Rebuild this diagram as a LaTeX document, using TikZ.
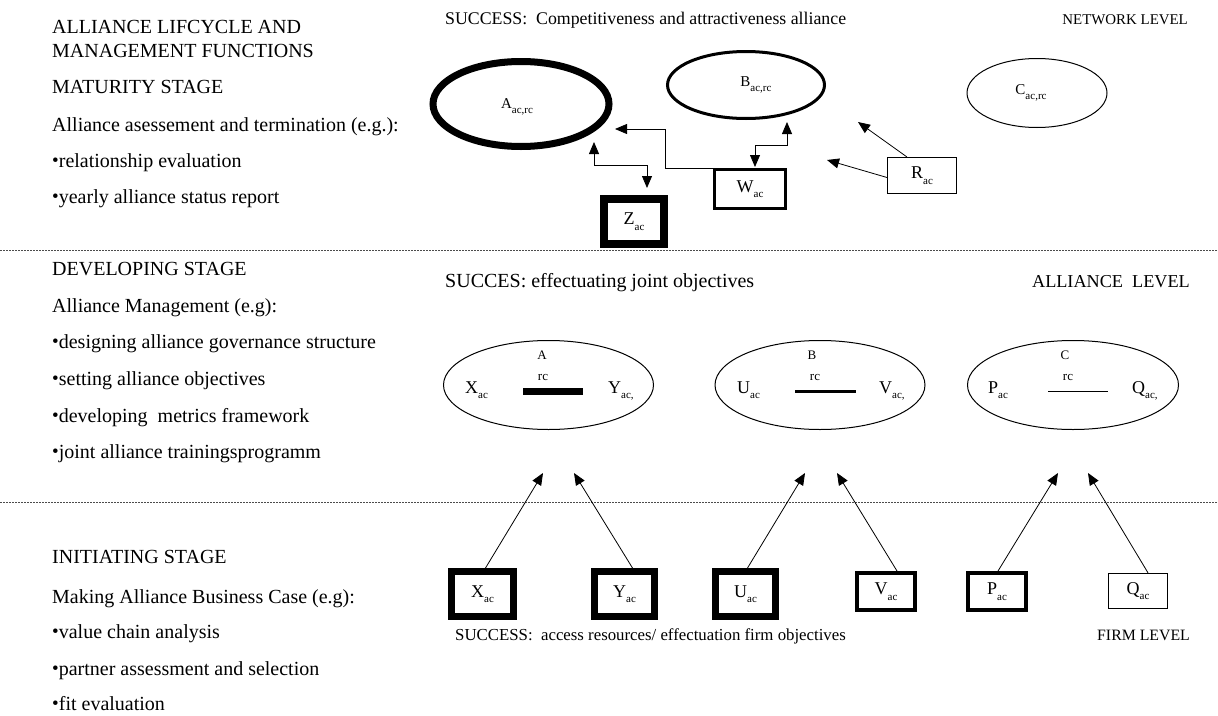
\documentclass[tikz,border=0pt]{standalone}
\usepackage{fontspec}
\setmainfont{Liberation Serif}
\usetikzlibrary{shapes.geometric,arrows.meta,calc}
\newcommand\sbs[2]{#1\raisebox{-0.3em}{\fontsize{11}{11}\selectfont #2}}
\newcommand\bul{{\fontsize{19}{19}\selectfont\raisebox{0.05em}{•}}}
\begin{document}
\begin{tikzpicture}[x=1pt,y=-1pt,
  lt/.style={anchor=base west, inner sep=0, font=\fontsize{20}{24}\selectfont},
  st/.style={anchor=base west, inner sep=0},
  rt/.style={anchor=base east, inner sep=0},
  bx/.style={draw, rectangle, inner sep=0, font=\fontsize{18}{20}\selectfont},
  el/.style={draw, ellipse, inner sep=0},
  ml/.style={anchor=base west, inner sep=0, font=\fontsize{18}{20}\selectfont},
  sl/.style={inner sep=0, font=\fontsize{13}{15}\selectfont},
  arr/.style={-{Triangle[length=12pt,width=10pt]}, line width=0.8pt},
  darr/.style={{Triangle[length=12pt,width=10pt]}-{Triangle[length=12pt,width=10pt]}, line width=0.8pt},
  sep/.style={dash pattern=on 2pt off 1pt, line width=1pt, black!70}]
\useasboundingbox (0,0) rectangle (1218,715);

% separators
\coordinate (s1l) at (0,250); \coordinate (s1r) at (1218,250);
\coordinate (s2l) at (0,502); \coordinate (s2r) at (1218,502);
\draw[sep] (s1l) -- (s1r);
\draw[sep] (s2l) -- (s2r);

% left column texts
\node[lt] (t1) at (52,33) {ALLIANCE LIFCYCLE AND};
\node[lt] (t2) at (52,57) {MANAGEMENT FUNCTIONS};
\node[lt] (t3) at (52,93) {MATURITY STAGE};
\node[lt] (t4) at (52,131) {Alliance asessement and termination (e.g.):};
\node[lt] (t5) at (52,167) {\bul relationship evaluation};
\node[lt] (t6) at (52,203) {\bul yearly alliance status report};
\node[lt] (t7) at (52,275) {DEVELOPING STAGE};
\node[lt] (t8) at (52,312) {Alliance Management (e.g):};
\node[lt] (t9) at (52,348) {\bul designing alliance governance structure};
\node[lt] (t10) at (52,385) {\bul setting alliance objectives};
\node[lt] (t11) at (52,422) {\bul developing\ \ metrics framework};
\node[lt] (t12) at (52,458) {\bul joint alliance trainingsprogramm};
\node[lt] (t13) at (52,563) {INITIATING STAGE};
\node[lt] (t14) at (52,603) {Making Alliance Business Case (e.g):};
\node[lt] (t15) at (52,638) {\bul value chain analysis};
\node[lt] (t16) at (52,675) {\bul partner assessment and selection};
\node[lt] (t17) at (52,710) {\bul fit evaluation};

% right-side headings
\node[st, font=\fontsize{17.8}{20}\selectfont] (h1) at (445,24) {SUCCESS:\ \ Competitiveness and attractiveness alliance};
\node[rt, font=\fontsize{14.9}{18}\selectfont] (h2) at (1188,24) {NETWORK LEVEL};
\node[st, font=\fontsize{20}{24}\selectfont] (h3) at (445,287) {SUCCES: effectuating joint objectives};
\node[rt, font=\fontsize{18.2}{20}\selectfont] (h4) at (1190,287) {ALLIANCE\ \ LEVEL};
\node[st, font=\fontsize{16.8}{20}\selectfont] (h5) at (455,640) {SUCCESS:\ \ access resources/ effectuation firm objectives};
\node[rt, font=\fontsize{15.8}{18}\selectfont] (h6) at (1190,640) {FIRM LEVEL};

% network level
\node[el, line width=7pt, minimum width=176pt, minimum height=85pt, font=\fontsize{15}{18}\selectfont, text depth=-8pt] (A) at (521,104) {\hspace*{-8pt}\sbs{A}{ac,rc}};
\node[el, line width=3pt, minimum width=157pt, minimum height=67pt, font=\fontsize{15}{18}\selectfont] (B) at (746,85) {\hspace*{20pt}\raisebox{6pt}{\sbs{B}{ac,rc}}};
\node[el, line width=1pt, minimum width=140pt, minimum height=69pt, font=\fontsize{15}{18}\selectfont] (C) at (1037,93) {\sbs{C}{ac,rc}\hspace*{12pt}};
\node[bx, line width=8pt, minimum width=60pt, minimum height=45pt] (Z) at (634,221.5) {\sbs{Z}{ac}};
\node[bx, line width=3pt, minimum width=71pt, minimum height=39pt] (W) at (750,189) {\sbs{W}{ac}};
\node[bx, line width=1pt, minimum width=69pt, minimum height=36pt] (R) at (922,175.5) {\sbs{R}{ac}};

\coordinate (tA1) at (594,142);
\coordinate (tZ) at (647,188);
\coordinate (tA2) at (615,129);
\coordinate (kW) at (665,129);
\coordinate (tB) at (787,122);
\coordinate (tW) at (755,167);
\coordinate (tR1) at (858,122);
\coordinate (tR2) at (827,160);
\draw[darr] (tA1) -- ++(0,23) -| (tZ);
\draw[arr] (W.north west) -| (kW) -- (tA2);
\draw[darr] (tB) -- ++(0,23) -| (tW);
\draw[arr] ([xshift=-15pt]R.north) -- (tR1);
\draw[arr] ([yshift=-2pt]R.west) -- (tR2);

% alliance level
\node[el, line width=1pt, minimum width=210pt, minimum height=89pt] (EA) at (548.5,385) {};
\node[el, line width=1pt, minimum width=210pt, minimum height=89pt] (EB) at (820,385) {};
\node[el, line width=1pt, minimum width=211pt, minimum height=89pt] (EC) at (1073,385) {};
\node[sl] (la) at (542,355) {A};
\node[sl] (lb) at (812,355) {B};
\node[sl] (lc) at (1065,355) {C};
\node[sl] (ra) at (543,377) {rc};
\node[sl] (rb) at (815,377) {rc};
\node[sl] (rcc) at (1068,377) {rc};
\draw[line width=7pt] (523,391) -- (583,391);
\draw[line width=3pt] (795,391) -- (856,391);
\draw[line width=1pt] (1048,391) -- (1108,391);
\node[ml] (lx) at (465,393) {\sbs{X}{ac}};
\node[ml] (ly) at (608,393) {\sbs{Y}{ac,}};
\node[ml] (lu) at (737,393) {\sbs{U}{ac}};
\node[ml] (lv) at (879,393) {\sbs{V}{ac,}};
\node[ml] (lp) at (988,393) {\sbs{P}{ac}};
\node[ml] (lq) at (1132,393) {\sbs{Q}{ac,}};

% firm level
\node[bx, line width=7pt, minimum width=62pt, minimum height=45pt] (X) at (482.5,594) {\sbs{X}{ac}};
\node[bx, line width=7pt, minimum width=60pt, minimum height=45pt] (Y) at (624.5,594) {\sbs{Y}{ac}};
\node[bx, line width=7pt, minimum width=60pt, minimum height=45pt] (U) at (745.5,594) {\sbs{U}{ac}};
\node[bx, line width=4pt, minimum width=58pt, minimum height=37pt] (V) at (886,591.5) {\sbs{V}{ac}};
\node[bx, line width=4pt, minimum width=58pt, minimum height=37pt] (P) at (997,591.5) {\sbs{P}{ac}};
\node[bx, line width=1.3pt, minimum width=59pt, minimum height=35pt] (Q) at (1138,591) {\sbs{Q}{ac}};

\coordinate (aX) at (543,473);
\coordinate (aY) at (574,473);
\coordinate (aU) at (805,473);
\coordinate (aV) at (837,473);
\coordinate (aP) at (1058,473);
\coordinate (aQ) at (1088,473);
\draw[arr] ([xshift=3pt]X.north) -- (aX);
\draw[arr] ([xshift=8pt]Y.north) -- (aY);
\draw[arr] ([xshift=2pt]U.north) -- (aU);
\draw[arr] ([xshift=11pt]V.north) -- (aV);
\draw[arr] ([xshift=1pt]P.north) -- (aP);
\draw[arr] ([xshift=10pt]Q.north) -- (aQ);
\end{tikzpicture}
\end{document}
